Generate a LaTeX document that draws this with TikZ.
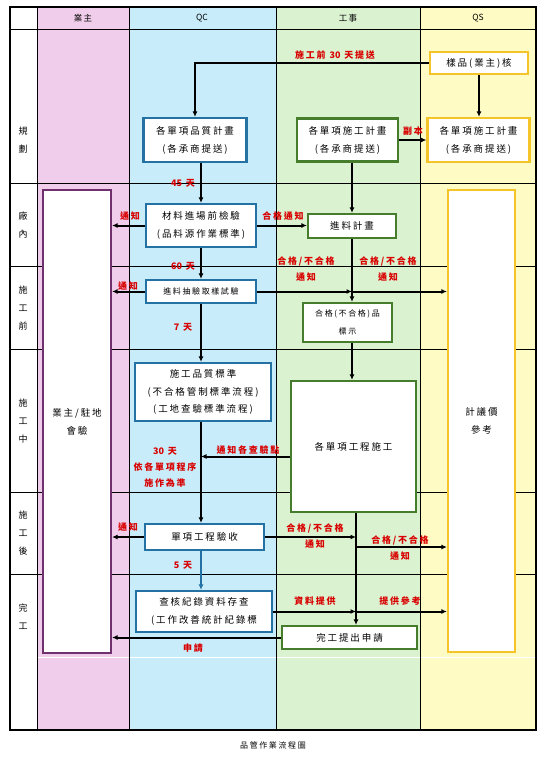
\documentclass[tikz,border=0pt]{standalone}
\usepackage{fontspec}
\setmainfont{Noto Sans CJK TC}
\newfontfamily\boxfont[LetterSpace=20]{Noto Sans CJK TC}
\newfontfamily\plainfont{Noto Sans CJK TC}
\usetikzlibrary{arrows.meta}
\definecolor{owner}{RGB}{240, 206, 235}
\definecolor{qc}{RGB}{200, 236, 250}
\definecolor{eng}{RGB}{218, 242, 208}
\definecolor{qs}{RGB}{254, 252, 196}
\definecolor{blueline}{RGB}{36, 113, 163}
\definecolor{greenline}{RGB}{70, 125, 45}
\definecolor{goldline}{RGB}{245, 196, 40}
\definecolor{purpleline}{RGB}{112, 48, 110}
\colorlet{note}{red!85!black}
\tikzset{
  box/.style={draw, line width=2.2pt, fill=white, align=center, inner sep=0pt,
    font=\boxfont\fontsize{9.5}{18}\selectfont},
  qcbox/.style={box, draw=blueline},
  engbox/.style={box, draw=greenline},
  qsbox/.style={box, draw=goldline},
  arr/.style={line width=2pt, -{Latex[length=5.5pt, width=5pt]}},
  lbl/.style={text=note, inner sep=0pt, align=center,
    font=\boxfont\bfseries\fontsize{9}{16}\selectfont},
  rowlbl/.style={align=center, font=\fontsize{9}{18}\selectfont},
  head/.style={font=\plainfont\fontsize{8.5}{10}\selectfont}
}
\newcommand{\flow}[6][qcbox]{
  \node[#1, minimum width=#2, minimum height=#3] (#4) at (#5) {#6};
}
\newcommand{\redlbl}[3]{
  \node[lbl] (#1) at (#2) {#3};
}
\newcommand{\digits}[1]{{\plainfont\bfseries#1}}

\begin{document}
\begin{tikzpicture}[x=1pt, y=-1pt]
  \useasboundingbox (0, 0) rectangle (546, 761);

  % lanes
  \fill[owner] (37, 7) rectangle (129, 730);
  \fill[qc] (129, 7) rectangle (276, 730);
  \fill[eng] (276, 7) rectangle (420, 730);
  \fill[qs] (420, 7) rectangle (536, 730);
  \draw[white, line width=0.6pt] (37, 657) -- (536, 657);
  \foreach \y in {29, 183, 266, 349, 492, 574}
    \draw[line width=0.8pt] (10, \y) -- (536, \y);
  \foreach \x in {37, 129, 276, 420}
    \draw[line width=0.8pt] (\x, 7) -- (\x, 730);
  \draw[line width=2.4pt] (10, 7) rectangle (536, 730);

  \node[head] (hOwner) at (83, 18) {業\,主};
  \node[head] (hQC) at (202, 18) {QC};
  \node[head] (hEng) at (348, 18) {工\,事};
  \node[head] (hQS) at (478, 18) {QS};

  \node[rowlbl] (rPlan) at (23, 140.5) {規\\劃};
  \node[rowlbl] (rPlant) at (23, 225) {廠\\內};
  \node[rowlbl] (rBefore) at (23, 308) {施\\工\\前};
  \node[rowlbl] (rDuring) at (23, 421) {施\\工\\中};
  \node[rowlbl] (rAfter) at (23, 533) {施\\工\\後};
  \node[rowlbl] (rDone) at (23, 617) {完\\工};

  % boxes
  \flow[qsbox]{98}{22}{sample}{479, 63}{樣品(業主)核}
  \flow{103}{44}{qcplan}{195, 140}{各單項品質計畫\\(各承商提送)}
  \flow[engbox]{101}{43}{engplan}{347.5, 140}{各單項施工計畫\\(各承商提送)}
  \flow[qsbox]{102}{44}{qsplan}{478.5, 140}{各單項施工計畫\\(各承商提送)}
  \flow[box, draw=purpleline]{68}{463}{owner}{77, 421.5}{業主/駐地\\會驗}
  \flow[qsbox]{67}{462}{qsref}{481.5, 421}{計議價\\參考}
  \flow{110}{43}{inspect}{201, 225.5}{材料進場前檢驗\\(品料源作業標準)}
  \flow[engbox]{88}{24}{matplan}{352, 226}{進料計畫}
  \flow[qcbox, font=\boxfont\fontsize{8}{10}\selectfont]{110}{23}{sampletest}{201, 291.5}{進料抽驗取樣試驗}
  \flow[engbox, font=\boxfont\fontsize{8}{18}\selectfont]{89}{39}{mark}{347.5, 322.5}{合格(不合格)品\\標示}
  \flow[qcbox, font=\boxfont\fontsize{9.5}{17.5}\selectfont]{136}{58}{qcstd}{203, 392}{施工品質標準\\(不合格管制標準流程)\\(工地查驗標準流程)}
  \flow[engbox]{125}{131}{construct}{353.5, 446.5}{各單項工程施工}
  \flow{119}{26}{accept}{204.5, 537}{單項工程驗收}
  \flow{136}{41}{record}{204, 611.5}{查核紀錄資料存查\\(工作改善統計紀錄標}
  \flow[engbox]{135}{23}{finish}{349.5, 637.5}{完工提出申請}
  \coordinate (spine) at (356, 547);

  % connectors
  \draw[arr] (sample.west) -| (qcplan.north);
  \draw[arr] (sample.south) -- (sample.south |- qsplan.north);
  \draw[arr] (engplan.east) -- (engplan.east -| qsplan.west);
  \draw[arr] (inspect.north |- qcplan.south) -- (inspect.north);
  \draw[arr] (matplan.north |- engplan.south) -- (matplan.north);
  \draw[arr] (inspect.west) -- (inspect.west -| owner.east);
  \draw[arr] (inspect.east) -- (inspect.east -| matplan.west);
  \draw[arr] (inspect.south) -- (sampletest.north);
  \draw[arr] (sampletest.west) -- (sampletest.west -| owner.east);
  \draw[arr] (matplan.south) -- (matplan.south |- mark.north);
  \draw[arr] (sampletest.east) -- (sampletest.east -| matplan.south);
  \draw[arr] (sampletest.east -| matplan.south) -- (sampletest.east -| qsref.west);
  \draw[arr] (sampletest.south) -- (sampletest.south |- qcstd.north);
  \draw[arr] (mark.south -| matplan.south) -- (matplan.south |- construct.north);
  \draw[arr] ([yshift=-10pt]construct.west) -- ([yshift=-10pt]construct.west -| sampletest.south);
  \draw[arr] (qcstd.south -| sampletest.south) -- (sampletest.south |- accept.north);
  \draw[arr] (accept.west) -- (accept.west -| owner.east);
  \draw[arr] (accept.east) -- (accept.east -| spine);
  \draw[arr] (construct.south -| spine) -- (finish.north -| spine);
  \draw[arr] (spine) -- (spine -| qsref.west);
  \draw[arr, blueline] (accept.south -| sampletest.south) -- (sampletest.south |- record.north);
  \draw[arr] (record.east) -- (record.east -| spine);
  \draw[arr] (record.east -| spine) -- (record.east -| qsref.west);
  \draw[arr] (finish.west) -- (finish.west -| owner.east);

  % labels
  \redlbl{l30}{335, 55}{施工前 \digits{30} 天提送}
  \redlbl{lcopy}{413, 131}{副本}
  \redlbl{l45}{183, 183}{\digits{45} 天}
  \redlbl{lnote1}{130, 216}{通知}
  \redlbl{lpass}{283, 216}{合格通知}
  \redlbl{l60}{183, 266}{\digits{60} 天}
  \redlbl{lnote2}{128, 286}{通知}
  \redlbl{lres1}{306, 269}{合格/不合格\\通知}
  \redlbl{lres2}{388, 269}{合格/不合格\\通知}
  \redlbl{l7}{183, 327}{\digits{7} 天}
  \redlbl{lcheck}{248, 450}{通知各查驗點}
  \redlbl{l30b}{165, 467}{\digits{30} 天\\依各單項程序\\施作為準}
  \redlbl{lnote3}{128, 527}{通知}
  \redlbl{lres3}{315, 536}{合格/不合格\\通知}
  \redlbl{lres4}{400, 548.5}{合格/不合格\\通知}
  \redlbl{l5}{183, 565}{\digits{5} 天}
  \redlbl{ldata}{315, 601}{資料提供}
  \redlbl{lref}{400, 601}{提供參考}
  \redlbl{lapply}{193, 648}{申請}

  \node[font=\boxfont\fontsize{8}{10}\selectfont] (caption) at (273, 745) {品管作業流程圖};
\end{tikzpicture}
\end{document}
